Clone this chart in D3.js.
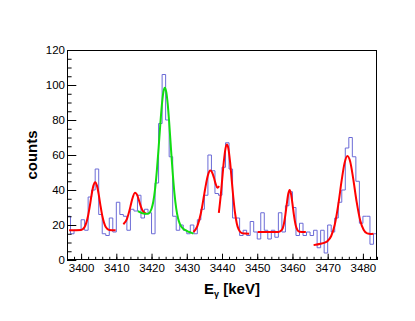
<!doctype html>
<html>
<head>
<meta charset="utf-8" />
<title>Gamma spectrum – peak fits</title>
<style>
  html,body{margin:0;background:#fff}
  svg{display:block;font-family:"Liberation Sans", Arial, sans-serif}
  .tick text{font-size:11.5px;fill:#000}
  .tick line{stroke:#000}
  .hist{fill:none;stroke:#6b6bd6;stroke-width:1}
  .fit{fill:none;stroke-width:2;stroke-linejoin:round}
</style>
</head>
<body>
<svg id="chart" width="415" height="321"></svg>
<script src="https://cdn.jsdelivr.net/npm/d3@7"></script>
<script>
// histogram: 1 keV bins starting at 3396 keV
const binStart = 3396;
const counts = [
  25,15,17,17,23,17,36,40,52,26,   // 3396-3405
  15,14,24,16,33,26,25,17,29,28,   // 3406-3415
  37,24,29,27,15,44,78,106,80,59,  // 3416-3425
  25,17,20,17,15,20,15,23,29,37,   // 3426-3435
  60,51,38,37,53,67,52,24,24,14,   // 3436-3445
  17,14,22,16,12,27,17,12,17,13,   // 3446-3455
  27,16,31,39,30,14,21,14,16,14,   // 3456-3465
  17,7,17,4,20,16,24,33,40,64,     // 3466-3475
  70,59,45,21,25,25,9,15           // 3476-3483
];

// fit curves: [energy keV, counts]
const fitA = [[3396.6,17],[3400,17.2],[3401,18.9],[3402,25.4],[3402.5,31.1],[3403,37.5],[3403.5,42.5],
  [3404,44.5],[3404.5,42.5],[3405,37.5],[3405.5,31.1],[3406,25.4],[3407,18.9],[3408,17.2],[3409.8,17]];
const fitB = [[3412,20.4],[3413,23.4],[3414,30.5],[3414.5,34.7],[3415.3,38.5],[3416,36.8],[3416.5,33.6],
  [3417,30.4],[3417.5,28.1],[3418.4,26.5]];
const fitMain = [[3416.1,27.9],[3418,26.5],[3419,26.5],[3420,29.3],[3420.5,33.4],[3421,40.5],[3421.5,50.9],
  [3422,63.9],[3422.5,77.9],[3423,90.1],[3423.4,96.4],[3423.8,98.5],[3424.2,95.8],[3424.6,88.9],[3425,78.8],
  [3425.5,64.1],[3426,49.9],[3426.5,38.1],[3427,29.5],[3427.5,24],[3428,20.8],[3429,17.9],[3430,16.7],
  [3431,15.8],[3431.9,15.1]];
const fitC = [[3431.9,16],[3433,19.4],[3434,26.7],[3434.5,32.1],[3435,38.1],[3435.5,43.8],[3436,48.4],
  [3436.7,51.1],[3437.2,50],[3437.7,47.1],[3438.2,43.5],[3438.7,41.3],[3439.2,42.2]];
const fitD = [[3439.1,26.9],[3439.6,36],[3440,44.8],[3440.5,55.9],[3441,63.8],[3441.4,66],[3441.8,63.8],
  [3442.3,55.9],[3442.8,44.8],[3443.2,36],[3443.7,26.9],[3444.2,20.9],[3444.7,17.6],[3445.5,15.5],
  [3446.5,15.1],[3447.7,15]];
const fitE = [[3450.1,16],[3456,16],[3457,17.2],[3457.5,20],[3458,25.9],[3458.4,32.2],[3458.8,37.7],
  [3459.2,40],[3459.6,37.7],[3460,32.2],[3460.4,25.9],[3460.9,20],[3461.4,17.2],[3462,16.2],[3463.8,16]];
const fitF = [[3466,8.5],[3468,9.3],[3469,9.8],[3470,10.9],[3471,13.7],[3472,20.1],[3473,31.5],[3474,45.9],
  [3474.8,55.5],[3475.6,59.4],[3476.4,56.1],[3477.2,47.1],[3478.2,33.5],[3479.2,22.9],[3480.2,17.3],
  [3481.2,15.2],[3482.2,14.9],[3483,15]];

const xMajor = d3.range(3400, 3481, 10);
const xMinor = d3.range(3396, 3485, 2);
const yMajor = d3.range(0, 121, 20);
const yMinor = d3.range(0, 121, 5);

const svg = d3.select('#chart');
const L = 67, R = 377, T = 50, B = 260;

const x = d3.scaleLinear().domain([3396, 3484]).range([L, R]);
const y = d3.scaleLinear().domain([0, 120]).range([B, T]);

svg.append('rect').attr('width', 415).attr('height', 321).attr('fill', '#fff');

svg.append('defs').append('clipPath').attr('id', 'frame')
  .append('rect').attr('x', L).attr('y', T).attr('width', R - L).attr('height', B - T);

const plot = svg.append('g').attr('clip-path', 'url(#frame)');

/* histogram as a step line */
const steps = [];
counts.forEach((c, i) => { steps.push([binStart + i, c], [binStart + i + 1, c]); });
const line = d3.line().x(d => x(d[0])).y(d => y(d[1]));
plot.append('path').attr('class', 'hist').attr('d', line(steps));

/* fits */
const smooth = d3.line().x(d => x(d[0])).y(d => y(d[1])).curve(d3.curveMonotoneX);
[fitA, fitB, fitC, fitD, fitE, fitF].forEach(f => {
  plot.append('path').attr('class', 'fit').attr('stroke', '#ff0000').attr('d', smooth(f));
});
plot.append('path').attr('class', 'fit').attr('stroke', '#11dd11').attr('d', smooth(fitMain));

/* axes – ROOT style, ticks inside */
const noLabel = () => '';
svg.append('g').attr('transform', `translate(${L},0)`)
  .call(d3.axisLeft(y).tickValues(yMinor).tickSize(-4.6).tickFormat(noLabel))
  .call(g => g.select('.domain').remove());
svg.append('g').attr('transform', `translate(${L},0)`)
  .call(d3.axisLeft(y).tickValues(yMajor).tickSize(-9.3).tickPadding(2))
  .call(g => g.select('.domain').remove());

svg.append('g').attr('transform', `translate(0,${B})`)
  .call(d3.axisBottom(x).tickValues(xMinor).tickSize(-3.2).tickFormat(noLabel))
  .call(g => g.select('.domain').remove());
svg.append('g').attr('transform', `translate(0,${B})`)
  .call(d3.axisBottom(x).tickValues(xMajor).tickSize(-6.3).tickPadding(4).tickFormat(d3.format('d')))
  .call(g => g.select('.domain').remove());

svg.selectAll('.tick text').attr('font-family', null).attr('font-size', null);

/* frame */
svg.append('rect')
  .attr('x', L + 0.5).attr('y', T + 0.5)
  .attr('width', R - L - 1).attr('height', B - T - 1)
  .attr('fill', 'none').attr('stroke', '#000').attr('stroke-width', 1);

/* axis titles */
svg.append('text')
  .attr('transform', 'translate(37,155) rotate(-90)')
  .attr('text-anchor', 'middle')
  .attr('font-size', 15).attr('font-weight', 'bold')
  .text('counts');

const xt = svg.append('text')
  .attr('x', 232).attr('y', 294)
  .attr('text-anchor', 'middle')
  .attr('font-size', 15).attr('font-weight', 'bold');
xt.append('tspan').text('E');
xt.append('tspan').attr('dy', 3).attr('font-size', 9).text('γ');
xt.append('tspan').attr('dy', -3).text(' [keV]');
</script>
</body>
</html>
